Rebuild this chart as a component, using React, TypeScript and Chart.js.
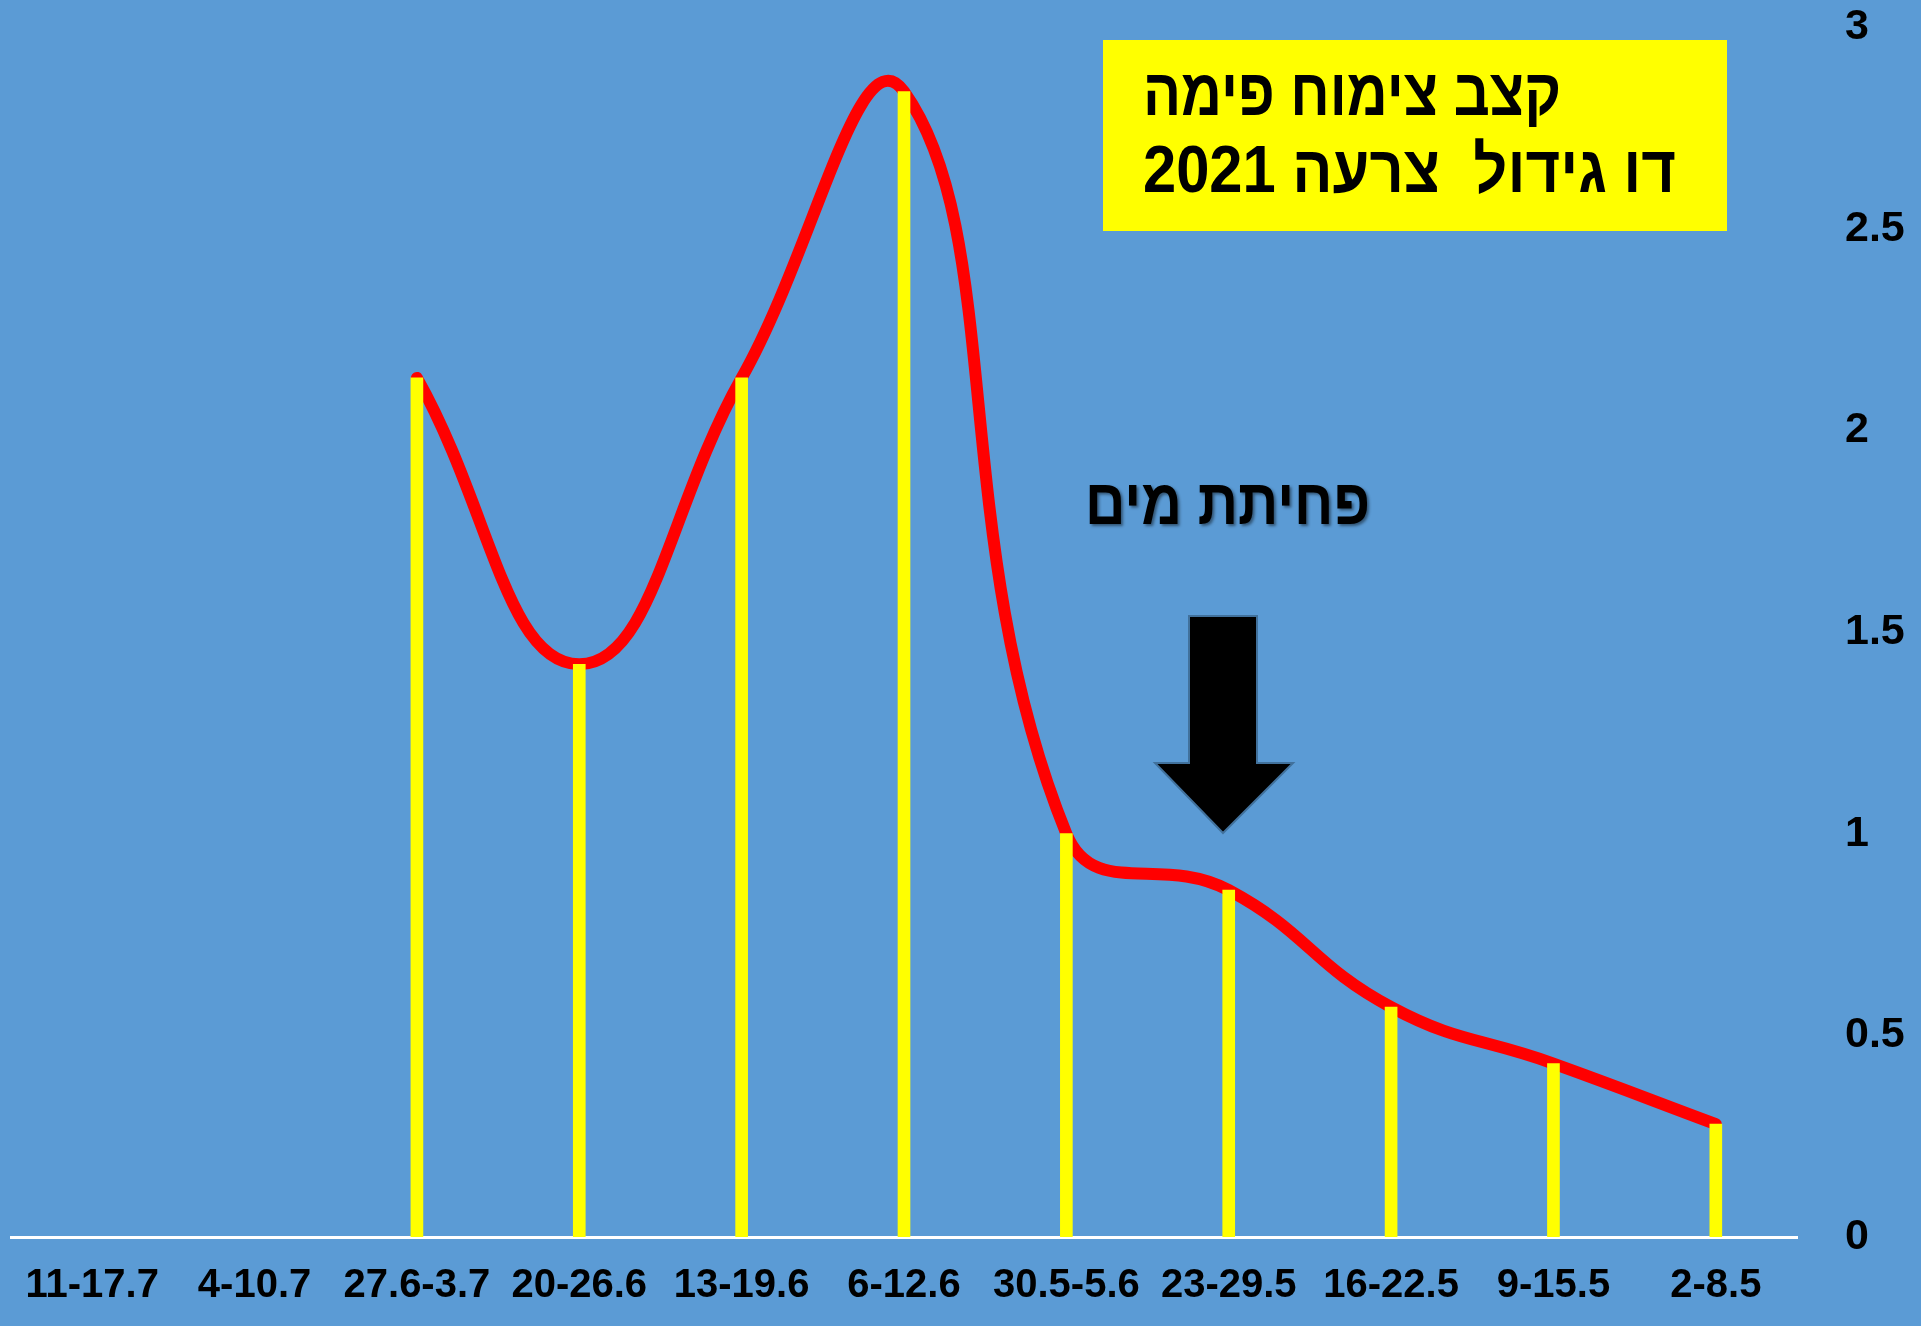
import React, { useEffect, useRef } from "react";
import { Chart, registerables } from "chart.js";

Chart.register(...registerables);

// ---- data ----
const categories = [
  "11-17.7",
  "4-10.7",
  "27.6-3.7",
  "20-26.6",
  "13-19.6",
  "6-12.6",
  "30.5-5.6",
  "23-29.5",
  "16-22.5",
  "9-15.5",
  "2-8.5",
];
const growthRate: (number | null)[] = [null, null, 2.13, 1.42, 2.13, 2.84, 1.0, 0.86, 0.57, 0.43, 0.28];
const yMin = 0;
const yMax = 3;
const yStep = 0.5;
const titleLines = ["קצב צימוח פימה", "דו גידול  צרעה 2021"];
const noteText = "פחיתת מים";

// ---- styles ----
const BG = "#5B9BD5";
const FONT = "'Liberation Sans', Arial, sans-serif";

function drawFitted(ctx: CanvasRenderingContext2D, text: string, xLeft: number, baseline: number, width: number, font: string) {
  ctx.save();
  ctx.font = font;
  ctx.direction = "rtl";
  ctx.textAlign = "left";
  ctx.textBaseline = "alphabetic";
  const w = ctx.measureText(text).width;
  ctx.translate(xLeft, baseline);
  ctx.scale(width / w, 1);
  ctx.fillText(text, 0, 0);
  ctx.restore();
}

const decorPlugin = {
  id: "decor",
  beforeDraw(chart: any) {
    const ctx = chart.ctx as CanvasRenderingContext2D;
    ctx.save();
    ctx.fillStyle = BG;
    ctx.fillRect(0, 0, chart.width, chart.height);
    ctx.restore();
  },
  afterDraw(chart: any) {
    const ctx = chart.ctx as CanvasRenderingContext2D;
    // title box
    ctx.save();
    ctx.fillStyle = "#FFFF00";
    ctx.fillRect(1103, 40, 624, 191);
    ctx.fillStyle = "#000000";
    drawFitted(ctx, titleLines[0], 1143, 115, 418, `bold 66px ${FONT}`);
    drawFitted(ctx, titleLines[1], 1143, 192, 533, `bold 66px ${FONT}`);
    ctx.restore();

    // note text with shadow
    ctx.save();
    ctx.shadowColor = "rgba(0,0,0,0.45)";
    ctx.shadowOffsetX = 2;
    ctx.shadowOffsetY = 2;
    ctx.shadowBlur = 3;
    ctx.fillStyle = "#000000";
    drawFitted(ctx, noteText, 1085, 524, 285, `bold 64px ${FONT}`);
    ctx.restore();

    // arrow
    ctx.save();
    ctx.beginPath();
    ctx.moveTo(1189, 616);
    ctx.lineTo(1257, 616);
    ctx.lineTo(1257, 763);
    ctx.lineTo(1293, 763);
    ctx.lineTo(1223, 833);
    ctx.lineTo(1155, 763);
    ctx.lineTo(1189, 763);
    ctx.closePath();
    ctx.fillStyle = "#000000";
    ctx.fill();
    ctx.lineWidth = 2;
    ctx.strokeStyle = "#41719C";
    ctx.stroke();
    ctx.restore();
  },
};

export default function App() {
  const ref = useRef<HTMLCanvasElement | null>(null);

  useEffect(() => {
    document.body.style.margin = "0";
    document.body.style.background = BG;
    document.body.style.overflow = "hidden";
    if (!ref.current) return;
    const chart = new Chart(ref.current, {
      type: "bar",
      data: {
        labels: categories,
        datasets: [
          {
            type: "bar",
            data: growthRate,
            backgroundColor: "#FFFF00",
            barThickness: 12,
            order: 0,
          } as any,
          {
            type: "line",
            data: growthRate,
            borderColor: "#FF0000",
            borderWidth: 12,
            tension: 0.45,
            pointRadius: 0,
            borderCapStyle: "round",
            borderJoinStyle: "round",
            fill: false,
            order: 1,
          } as any,
        ],
      },
      plugins: [decorPlugin],
      options: {
        animation: false,
        responsive: false,
        devicePixelRatio: 1,
        layout: { padding: { left: 10, top: 27, right: 0, bottom: 0 } },
        plugins: {
          legend: { display: false },
          tooltip: { enabled: false },
          title: { display: false },
        },
        scales: {
          x: {
            offset: true,
            grid: { display: false, drawTicks: false },
            border: { display: true, color: "#FFFFFF", width: 3 },
            ticks: {
              color: "#000000",
              font: { family: FONT, size: 40, weight: "bold" },
              padding: 25,
              maxRotation: 0,
              minRotation: 0,
              autoSkip: false,
            },
            afterFit: (s: any) => {
              s.height = 89;
              s.paddingTop = 0;
              s.paddingBottom = 0;
            },
          },
          y: {
            position: "right",
            min: yMin,
            max: yMax,
            grid: { display: false, drawTicks: false },
            border: { display: false },
            ticks: {
              stepSize: yStep,
              color: "#000000",
              font: { family: FONT, size: 43, weight: "bold" },
              padding: 48,
              callback: (v: any) => String(v),
            },
            afterFit: (s: any) => {
              s.width = 124;
              s.paddingTop = 0;
              s.paddingBottom = 0;
            },
          },
        },
      } as any,
    });
    return () => chart.destroy();
  }, []);

  return (
    <div style={{ width: 1921, height: 1326, background: BG }}>
      <canvas ref={ref} width={1921} height={1326} style={{ display: "block", width: 1921, height: 1326 }} />
    </div>
  );
}
